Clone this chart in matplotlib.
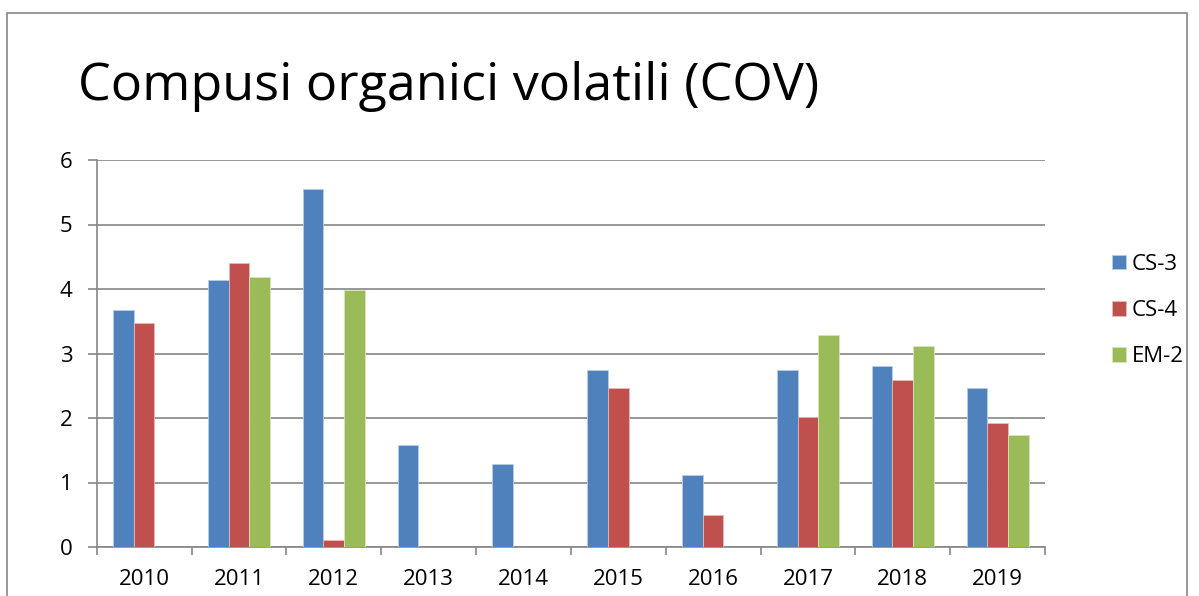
import matplotlib
matplotlib.use("Agg")
import matplotlib.pyplot as plt
import numpy as np
from matplotlib.patches import Rectangle

years = ["2010", "2011", "2012", "2013", "2014", "2015", "2016", "2017", "2018", "2019"]
cs3 = [3.67, 4.14, 5.55, 1.58, 1.28, 2.74, 1.12, 2.75, 2.80, 2.47]
cs4 = [3.48, 4.40, 0.11, 0.0, 0.0, 2.46, 0.50, 2.01, 2.59, 1.93]
em2 = [0.0, 4.18, 3.99, 0.0, 0.0, 0.0, 0.0, 3.28, 3.12, 1.73]
series_names = ["CS-3", "CS-4", "EM-2"]
colors = ["#4F81BD", "#C0504D", "#9BBB59"]
edges = ["#B9CDE5", "#E6B9B8", "#D7E4BD"]

plt.rcParams['font.family'] = ['Open Sans', 'DejaVu Sans']

W, H = 1199, 596
fig = plt.figure(figsize=(W / 100, H / 100), dpi=100)
ax = fig.add_axes([96.7 / W, 1 - 547 / H, (1045 - 96.7) / W, (547 - 160) / H])

x = np.arange(len(years))
w = 0.218
for i, (vals, name) in enumerate(zip([cs3, cs4, em2], series_names)):
    ax.bar(x + (i - 1) * w, vals, width=w, color=colors[i], edgecolor=edges[i],
           linewidth=0.6, label=name, zorder=3)

ax.set_xlim(-0.5, len(years) - 0.5)
ax.set_ylim(0, 6)
ax.set_yticks(range(0, 7))
ax.yaxis.grid(True, color="#868686", linewidth=1.2, zorder=0)
ax.set_axisbelow(True)
for s in ["top", "right"]:
    ax.spines[s].set_visible(False)
for s in ["left", "bottom"]:
    ax.spines[s].set_color("#868686")
    ax.spines[s].set_linewidth(1.2)

ax.set_xticks(x)
ax.set_xticklabels(years)
ax.set_xticks(np.arange(-0.5, len(years)), minor=True)
ax.tick_params(axis="x", which="major", length=0, pad=16, labelsize=16)
ax.tick_params(axis="x", which="minor", length=5.8, width=1.2, color="#868686", direction="out")
ax.tick_params(axis="y", length=6.3, width=1.2, color="#868686", direction="out", labelsize=16, pad=11)

leg = fig.legend(loc="upper left", bbox_to_anchor=(1111.7 / W, 1 - 254 / H),
                 bbox_transform=fig.transFigure, frameon=False, borderpad=0,
                 borderaxespad=0, fontsize=16, handlelength=0.63, handleheight=0.63,
                 labelspacing=1.13, handletextpad=0.28)

fig.text(78 / W, 1 - 100 / H, "Compusi organici volatili (COV)", fontsize=37.5, ha="left",
         va="baseline", color="black")

fig.add_artist(Rectangle((7 / W, -0.1), (1187 - 7) / W, 1.1 - 13 / H,
                         transform=fig.transFigure, fill=False, edgecolor="#868686",
                         linewidth=1.2))

fig.savefig("out.png", dpi=100)
